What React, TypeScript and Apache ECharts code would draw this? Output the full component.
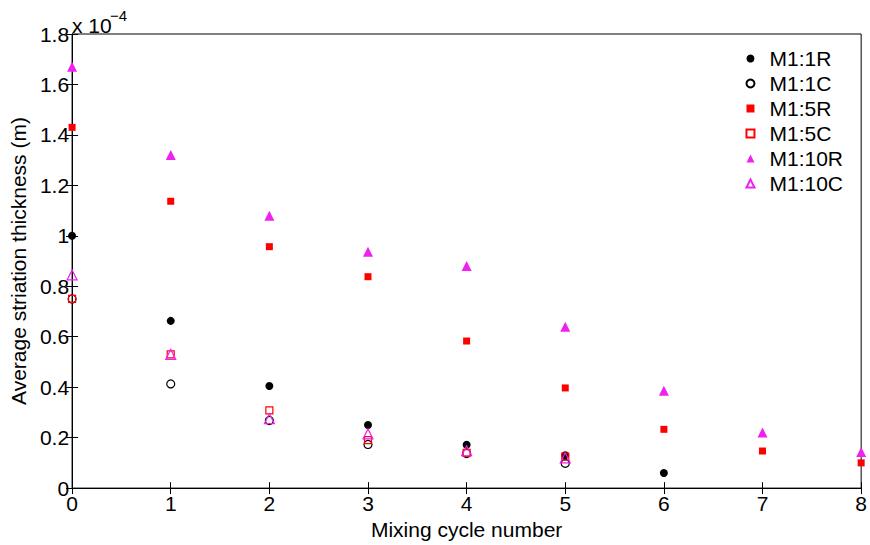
import React, { useEffect, useRef } from "react";
import * as echarts from "echarts";

// Average striation thickness, in units of 1e-4 m, per mixing cycle
const cycles = [0, 1, 2, 3, 4, 5, 6, 7, 8];
const m1_1R = [1.0, 0.663, 0.405, 0.25, 0.172, 0.13, 0.06];
const m1_1C = [0.75, 0.413, 0.268, 0.173, 0.137, 0.098];
const m1_5R = [1.43, 1.137, 0.957, 0.838, 0.583, 0.397, 0.233, 0.147, 0.1];
const m1_5C = [0.75, 0.53, 0.308, 0.19, 0.14, 0.125];
const m1_10R = [1.67, 1.32, 1.08, 0.937, 0.88, 0.64, 0.386, 0.22, 0.143];
const m1_10C = [0.845, 0.53, 0.275, 0.215, 0.148, 0.12];
const yTicks = [0, 0.2, 0.4, 0.6, 0.8, 1, 1.2, 1.4, 1.6, 1.8];

const FONT = "Liberation Sans, Arial, sans-serif";
const MAGENTA = "#f020f0";

const pairs = (vals: number[]) => vals.map((v, i) => [cycles[i], v]);

export default function App() {
  const ref = useRef<HTMLDivElement>(null);

  useEffect(() => {
    if (!ref.current) return;
    const chart = echarts.init(ref.current, null, { renderer: "svg" });

    const mk = (
      name: string,
      vals: number[],
      symbol: string,
      size: number,
      color: string,
      filled: boolean
    ) => ({
      name,
      type: "scatter",
      data: pairs(vals),
      symbol,
      symbolSize: size,
      clip: true,
      itemStyle: filled
        ? { color, borderColor: color, borderWidth: 0, opacity: 1 }
        : { color: "rgba(0,0,0,0)", borderColor: color, borderWidth: 1.2, opacity: 1 },
    });

    const axisText = { color: "#000", fontFamily: FONT, fontSize: 21 };
    const tick = { show: true, inside: true, length: 6, lineStyle: { color: "#000" } };
    const line = { show: true, lineStyle: { color: "#000", width: 1 } };

    chart.setOption({
      animation: false,
      backgroundColor: "#fff",
      grid: {
        left: 70,
        right: 4,
        top: 34,
        bottom: 53,
        show: true,
        borderColor: "#000",
        borderWidth: 1,
      },
      xAxis: [
        {
          type: "value",
          min: 0,
          max: 8,
          interval: 1,
          name: "Mixing cycle number",
          nameLocation: "middle",
          nameGap: 22,
          nameTextStyle: axisText,
          axisLine: line,
          axisTick: tick,
          axisLabel: { ...axisText, margin: 5 },
          splitLine: { show: false },
        },
        {
          type: "value",
          position: "top",
          min: 0,
          max: 8,
          interval: 1,
          axisLine: line,
          axisTick: tick,
          axisLabel: { show: false },
          splitLine: { show: false },
        },
      ],
      yAxis: [
        {
          type: "value",
          min: 0,
          max: 1.8,
          interval: 0.2,
          name: "Average striation thickness (m)",
          nameLocation: "middle",
          nameGap: 38,
          nameTextStyle: axisText,
          axisLine: line,
          axisTick: tick,
          axisLabel: {
            ...axisText,
            margin: 3,
            formatter: (v: number) => {
              const t = yTicks.find((k) => Math.abs(k - v) < 1e-6);
              return String(t !== undefined ? t : Number(v.toFixed(1)));
            },
          },
          splitLine: { show: false },
        },
        {
          type: "value",
          position: "right",
          min: 0,
          max: 1.8,
          interval: 0.2,
          axisLine: line,
          axisTick: tick,
          axisLabel: { show: false },
          splitLine: { show: false },
        },
      ],
      legend: {
        orient: "vertical",
        right: 22,
        top: 43,
        itemGap: 4,
        itemWidth: 8,
        itemHeight: 8,
        textStyle: { color: "#000", fontFamily: FONT, fontSize: 21, padding: [0, 0, 0, 10] },
        data: ["M1:1R", "M1:1C", "M1:5R", "M1:5C", "M1:10R", "M1:10C"],
      },
      graphic: [
        {
          type: "text",
          x: 72,
          y: 25,
          style: {
            text: "x 10",
            font: `21px ${FONT}`,
            fill: "#000",
            verticalAlign: "middle",
          },
        },
        {
          type: "text",
          x: 110,
          y: 15,
          style: {
            text: "−4",
            font: `15px ${FONT}`,
            fill: "#000",
            verticalAlign: "middle",
          },
        },
      ],
      series: [
        mk("M1:1R", m1_1R, "circle", 8, "#000", true),
        mk("M1:1C", m1_1C, "circle", 8, "#000", false),
        mk("M1:5R", m1_5R, "rect", 7, "#ff0000", true),
        mk("M1:5C", m1_5C, "rect", 7, "#ff0000", false),
        mk("M1:10R", m1_10R, "triangle", 10, MAGENTA, true),
        mk("M1:10C", m1_10C, "triangle", 10, MAGENTA, false),
      ],
    });

    return () => chart.dispose();
  }, []);

  return <div ref={ref} style={{ width: 870, height: 545, position: "absolute", left: 0, top: 0 }} />;
}
